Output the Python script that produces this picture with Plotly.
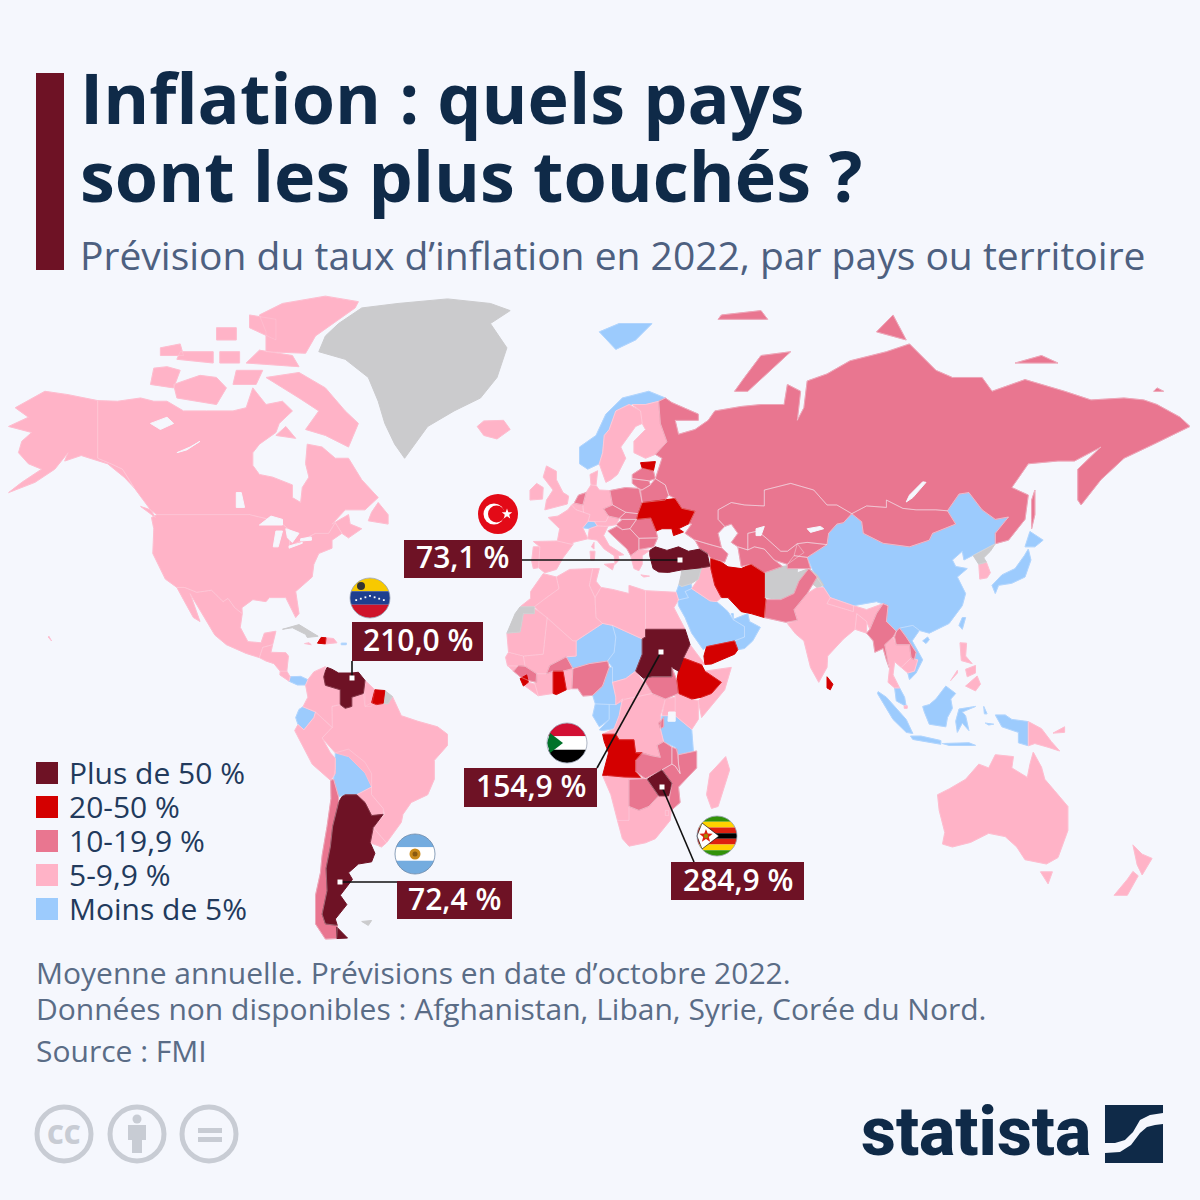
import math
import plotly.graph_objects as go

# ---------- geometry: country outlines as (lon, lat) rings, read coarsely ----------
CANADA = [
 [(-141,69.6),(-135,69.5),(-128,70),(-124,69.5),(-120,69.5),(-115,68),(-108,68),(-100,68),(-96,68.5),(-95,70),(-94,71.5),(-90,69),(-85,69.5),(-82,68),(-86,66),(-87,64.5),(-92,62.5),(-94,61),(-94,58.7),(-92,57),(-88,56.5),(-82,55),(-82,52.5),(-79.5,51.5),(-79,54.5),(-77,56.5),(-78,59),(-77.5,62.5),(-73,62),(-69,60),(-65,60),(-61,56),(-56,52.5),(-60,50),(-66,50),(-70,47),(-65,49),(-64.5,47),(-61,46),(-65,44),(-67,45),(-69,47.3),(-71,45),(-75,45),(-79,43.5),(-83,42),(-82.5,45.5),(-85,47),(-89,48),(-95,49),(-123,49),(-125,50),(-130,54.5),(-133.5,58),(-137,59),(-141,60)],
 [(-62,66),(-65,62),(-72,64),(-78,65),(-74,68),(-80,70),(-90,73),(-80,73.7),(-72,71.5),(-66,68)],
 [(-117,70),(-105,69),(-102,71.5),(-105,73),(-110,73.3),(-118,72)],
 [(-90,76.5),(-78,76.3),(-75,78.5),(-63,81.8),(-62,82.5),(-72,83.1),(-85,82.3),(-92,81),(-90,79)],
 [(-96,75),(-80,74.5),(-82,76),(-92,76.7)],
 [(-125,72),(-118,71.5),(-116,74),(-120,74.5),(-124,74.3)],
 [(-117,75.5),(-106,75),(-106,76.5),(-116,76.5)],
 [(-104,75),(-98,75),(-98,76.5),(-104,76.5)],
 [(-122,76),(-115,76),(-116,77.5),(-122,77)],
 [(-105,78),(-99,78),(-99,79.5),(-105,79.5)],
 [(-100,72),(-93,72),(-91,74),(-99,74)],
 [(-59,47.7),(-53,47),(-53,49),(-56,51.5),(-58,49.5)],
 [(-128,50.7),(-123.5,48.4),(-125,50)],
 [(-95,79.5),(-87,78),(-87,80.5),(-95,81)],
 [(-87,64),(-81,63.5),(-84,65.5)],
]
USA = [
 [(-124.7,48.4),(-123,49),(-95,49),(-89,48),(-85,47),(-82.5,45.5),(-83,42),(-79,43.5),(-75,45),(-71,45),(-69,47.3),(-67,45),(-70,43.5),(-70,41.7),(-74,40.5),(-75.5,38),(-76,35),(-81,31.5),(-80,26),(-81,25),(-82.7,28),(-84,30),(-89,30),(-90,29),(-94,29.5),(-97.3,27.5),(-97.2,26),(-99.5,27.5),(-101.5,29.8),(-103,29),(-106.5,31.8),(-111,31.3),(-114.7,32.5),(-117,32.5),(-120.5,34.5),(-122.5,37.5),(-124.3,40.5),(-124,46)],
 [(-141,69.6),(-141,60),(-137,59),(-133.5,58),(-130,54.5),(-133,56.5),(-138,59),(-146,60.5),(-151,59.5),(-150,61),(-154,58),(-160,55.5),(-168,53.5),(-164,55.5),(-158,58),(-162,59),(-165,61),(-164,63),(-161,64.5),(-168,65.5),(-162,67),(-166,68.5),(-157,71),(-150,70.5)],
 [(-156,20),(-155,19),(-155.8,20.2)],
]
MEXICO = [[(-117,32.5),(-114.7,32.5),(-111,31.3),(-106.5,31.8),(-103,29),(-101.5,29.8),(-99.5,27.5),(-97.2,26),(-97.8,22.5),(-95.5,18.8),(-91.5,18.5),(-90.5,21),(-87,21.5),(-88,18),(-91,17.3),(-92,14.6),(-96,15.7),(-102,18),(-105.5,20.5),(-109,25.5),(-113,31),(-110,24),(-112,25),(-115,29.5)]]
CENTRAL_AM = [[(-92,14.6),(-91,17.3),(-88,18),(-88.5,16),(-84,15.9),(-83.2,15),(-83.7,11),(-85.7,11),(-87.6,13),(-90,13.7)]]
COSTA_RICA = [[(-85.7,11),(-83.7,11),(-82.7,9.5),(-83,8.3),(-85.8,10)]]
PANAMA = [[(-83,8.3),(-82.7,9.5),(-79.5,9.6),(-77.3,8.7),(-78,7.3),(-80.5,7.3)]]
CUBA = [[(-85,22),(-80,23.2),(-74.2,20.2),(-77.5,19.9),(-78,20.7),(-82,22.4)]]
HAITI = [[(-74.4,18.4),(-72,18.2),(-71.8,19.8),(-73.3,19.9)]]
DOMINICAN = [[(-71.8,19.8),(-72,18.2),(-68.5,18.5),(-69.5,19.6)]]
JAMAICA = [[(-78.3,18.3),(-76.3,18),(-77,18.5)]]
PUERTO_RICO = [[(-67.2,18.4),(-65.6,18.4),(-65.7,18),(-67.2,18)]]
GREENLAND = [[(-74,76.5),(-72,78.5),(-68,80),(-61,81.8),(-50,82.3),(-35,82.8),(-22,82.3),(-16,81.5),(-22,80),(-17,77),(-20,73),(-25,70),(-33,68),(-41,65.5),(-48,60),(-51,62.5),(-54,66),(-56,69.5),(-59,73),(-66,75.5)]]
ICELAND = [[(-26,65.5),(-24,64),(-20,63.4),(-16,65),(-18,66.5),(-24,66.4)]]
COLOMBIA = [[(-77.3,8.7),(-75.5,10.8),(-72,12.2),(-72.5,9.5),(-72,7.2),(-67.5,6),(-67.5,2),(-70,1.5),(-69.8,-4.2),(-72,-2.5),(-75,0),(-78.8,1.4),(-77.3,4),(-78,7.3)]]
VENEZUELA = [[(-72,11),(-71.5,12),(-70,11.5),(-68,10.5),(-64,10.5),(-62,10.7),(-60,8.5),(-60.5,5),(-64,4),(-64,1.5),(-66,1),(-67.5,2),(-67.5,6),(-72,7.2),(-72.5,9.5)]]
GUYANA = [[(-60,8.5),(-57,6),(-58,1.5),(-60,1.5),(-60.5,5)]]
SURINAME = [[(-57,6),(-54,5.8),(-54.5,2.3),(-56.5,2),(-58,2.5)]]
FR_GUIANA = [[(-54,5.8),(-51.7,4.2),(-53,2.2),(-54.5,2.3)]]
ECUADOR = [[(-78.8,1.4),(-75,0),(-75.5,-1.5),(-78.5,-4.8),(-80.3,-3.4),(-81,-1.5),(-80,0.7)]]
PERU = [[(-75,0),(-72,-2.5),(-70,-4.2),(-73,-7),(-70.5,-11),(-69,-12.5),(-69,-16.5),(-70.4,-18.3),(-76,-14),(-81.3,-5),(-80.3,-3.4),(-78.5,-4.8),(-75.5,-1.5)]]
BRAZIL = [[(-60,5.2),(-60,1.5),(-58,2.5),(-56.5,2),(-54.5,2.3),(-53,2.2),(-51.7,4.2),(-50,1),(-49,-1),(-44,-2.5),(-38,-4),(-35,-6),(-35,-9),(-39,-13),(-39,-18),(-41,-22),(-46,-24),(-48.5,-27),(-49,-29),(-53.5,-34),(-57.5,-30.3),(-54,-27),(-54.5,-25.5),(-58,-22),(-58,-20),(-60,-16.3),(-65,-12),(-69,-11),(-73,-7),(-70,-4.2),(-70,1.5),(-67.5,2),(-66,1),(-64,1.5),(-64,4),(-60.5,5)]]
BOLIVIA = [[(-69,-11),(-65,-10),(-60,-13.5),(-58,-16.5),(-58,-20),(-62.5,-22),(-66,-22),(-68,-22.5),(-69.5,-18),(-69,-15)]]
PARAGUAY = [[(-62.5,-22),(-58,-20),(-58,-22),(-54.5,-25.5),(-54.5,-27),(-58,-27.3),(-60,-24)]]
ARGENTINA = [
 [(-66,-22),(-62.5,-22),(-60,-24),(-58,-27.3),(-54.5,-27),(-57.5,-30.3),(-58.4,-34),(-57,-36.5),(-58,-38.5),(-62,-39),(-65,-41),(-63.8,-42.5),(-67.5,-46),(-65.5,-48),(-69,-51),(-68.4,-52.3),(-72,-52),(-73,-50),(-71.5,-45),(-71.8,-40),(-70.5,-35),(-69.8,-30),(-68,-24),(-67,-22.5)],
 [(-68.6,-52.6),(-65.3,-54.8),(-68.6,-54.9)],
]
CHILE = [[(-70.4,-18.3),(-69.5,-18),(-68,-22.5),(-68,-24),(-69.8,-30),(-70.5,-35),(-71.8,-40),(-71.5,-45),(-73,-50),(-72,-52),(-68.4,-52.3),(-68.6,-54.9),(-72,-55),(-75,-52),(-75,-46),(-73.5,-41),(-73,-37),(-71.5,-30),(-70.3,-23)]]
URUGUAY = [[(-58.4,-34),(-57.5,-30.3),(-53.5,-34),(-55,-35)]]
FALKLANDS = [[(-61,-51.5),(-58,-51.3),(-59,-52.3)]]
NORWAY = [[(5,59),(7.5,58),(11,59),(12,61),(12.5,64),(14,65),(16,68),(20,69),(25,69),(29,69.5),(31,70),(26,71),(18,70),(13,67.5),(10,64),(5,62)]]
SVALBARD = [[(11,79),(16,76.8),(22,78),(27,80),(17,80)]]
SWEDEN = [[(11,59),(13,55.5),(14.5,56),(16.5,57),(19,60),(17.5,62),(22,65.5),(24,66),(23.5,68),(20,69),(16,68),(14,65),(12.5,64),(12,61)]]
FINLAND = [[(21.5,61),(25,60),(28,60.7),(31.5,62.9),(29.5,66),(29,69.5),(25,69),(21,69),(23.5,68),(24,66),(25,65),(21.5,63)]]
DENMARK = [[(8.5,55),(10,54.9),(10.5,57.7),(8.2,57)]]
ESTONIA = [[(23.5,59.2),(28,59.4),(27.4,57.7),(25,58),(24,58.2)]]
LATVIA = [[(21,57),(24,58.2),(25,58),(27.4,57.7),(28,56.2),(26,55.8),(21,56.2)]]
LITHUANIA = [[(21,56.2),(26,55.8),(26.5,55),(24,54),(23,54.3),(21,55.3)]]
BELARUS = [[(23.5,53.9),(26.5,55),(28,56.2),(31,55),(32,53),(31,52),(24,51.5)]]
POLAND = [[(14.2,53.9),(19,54.5),(23,54.3),(24,51.5),(22.7,49.2),(19,49.5),(15,51)]]
UKRAINE = [[(24,51.5),(31,52),(34,52.3),(36,50.3),(40,49.7),(38.2,47.1),(35,46),(36.5,45.3),(33.5,44.5),(33,46),(30,46),(28.2,45.5),(29.5,47),(26.6,48.3),(22.3,48),(22.7,49.2)]]
MOLDOVA = [[(26.6,48.3),(29.2,47.8),(30,46.5),(28.2,45.5)]]
ROMANIA = [[(22.3,48),(26.6,48.3),(28.2,45.5),(28.7,44),(23,43.9),(20.3,46)]]
BULGARIA = [[(23,43.9),(28.7,44),(27.5,42),(23,41.4)]]
HUNGARY = [[(16.2,46.9),(18,48),(22.3,48),(20.3,46),(18,45.8)]]
SLOVAKIA = [[(17,48.2),(19,49.5),(22.7,49.2),(22.3,48),(18,48)]]
CZECHIA = [[(12.3,50.2),(15,51),(19,49.5),(17,48.2),(13.8,48.7)]]
BALKANS = [[(13.6,45.5),(16.3,46.5),(18,45.8),(20.3,46),(23,43.9),(23,41.4),(20.5,40),(19.4,41.5),(15,44.5)]]
GREECE = [[(20.5,40),(23,41.4),(26.3,41.2),(24,40),(24,38),(23,36.5),(21.5,37),(21,38.5)],[(23.6,35.5),(26.2,35.2),(24.5,35)]]
GERMANY = [[(6,51),(7,53.5),(8.5,55),(10,54.9),(11,54),(14.2,53.9),(15,51),(12.3,50.2),(13.8,48.7),(13,47.5),(7.6,47.6),(8.2,49),(6.2,49.5)]]
NETHERLANDS = [[(3.4,51.4),(4.7,53),(7,53.5),(6,51)]]
BELGIUM = [[(2.6,51),(3.4,51.4),(6,51),(6.2,49.5),(4,50)]]
SWITZERLAND = [[(6,46.2),(7.6,47.6),(9.6,47.5),(10.4,46.6),(8,46)]]
AUSTRIA = [[(9.6,47.5),(13,47.5),(13.8,48.7),(17,48.2),(16.2,46.9),(13,46.5),(10.4,46.6)]]
FRANCE = [[(2.6,51),(4,50),(6.2,49.5),(8.2,49),(7.6,47.6),(6,46.2),(7.5,43.8),(3,43),(3,42.5),(-1.7,43.3),(-1,46),(-4.5,48.4),(-1.5,48.7),(1.5,50)],[(8.6,42),(9.4,43),(9.4,41.5)]]
SPAIN = [[(-9,43.2),(-1.7,43.3),(3,42.5),(0,39.5),(-2,36.8),(-5.5,36),(-7.4,37.2),(-7,42)]]
PORTUGAL = [[(-9,42),(-7,42),(-7.4,37.2),(-9,37),(-9.5,38.8)]]
ITALY = [[(7.5,43.8),(8,46),(10.4,46.6),(13.6,46.5),(12.3,44.5),(14,42.3),(18.4,40.2),(16.7,40),(17,39),(15.8,38),(15.5,40),(12.5,41.5),(10.3,43.5)],[(12.5,38),(15.6,38.2),(15,36.7)],[(8.2,41),(9.7,41),(9.5,39),(8.4,39)]]
UK = [[(-5.5,50),(1.3,51.2),(1.7,52.8),(0,53.5),(-2,56),(-2,57.6),(-5,58.6),(-6,56.5),(-3,54),(-5,52)]]
IRELAND = [[(-10,52),(-6.2,52.2),(-6,54.5),(-8,55.3),(-10,54)]]
TURKEY = [[(26.3,40),(26.3,41.2),(28,42),(31.5,41.2),(35,42),(38,41),(41.5,41.5),(43.7,40.5),(44.5,37.5),(42,37.2),(36,36.7),(32,36.1),(29,36.2),(27.3,37)]]
CAUCASUS = [[(40,43.5),(44,42.6),(48,41.8),(50,40.4),(49,38.5),(44.8,39.4),(43.7,40.5),(41.5,41.5)]]
RUSSIA = [
 [(28,56.2),(31,55),(32,53),(34,52.3),(36,50.3),(40,49.7),(38.2,47.1),(39,47),(37,45),(40,43.5),(44,42.6),(48,41.8),(47,45),(49,46.5),(47,48),(47,50),(51,51.5),(55,51),(61,50.8),(61,54),(69,55.3),(76,54),(80,51),(83,51),(87.5,49.2),(92,50.8),(98,50.5),(98,52),(103,50.3),(107,50),(113,50),(116.5,49.8),(120,53.2),(123,53.5),(127,50),(131,48),(135,48.5),(131,45),(131,42.7),(135,43.5),(140,48),(141,53),(136,54.5),(141,59),(150,59.5),(155,59.5),(163,62),(156,58),(156,52),(157,51),(163,56),(170,60),(179,62.5),(190,65.5),(187,67),(180,69),(176,69.7),(170,70),(160,69.7),(152,71),(140,72.7),(130,71),(127,73),(118,73),(113,74),(105,77.5),(98,76.5),(87,75.3),(80,73.5),(74,72.5),(73,68.5),(71,66.5),(72,71),(68,72),(67,69),(60,69),(54,68.7),(46,68),(44,66.5),(40,65),(35,64.2),(34,66.5),(41,66.5),(41,67.5),(33,69.3),(31,70),(29,69.5),(29.5,66),(31.5,62.9),(28,60.7),(30,60)],
 [(142,46),(143,49),(143,54),(142,52),(142,48)],
 [(52,71),(56,71),(69,76.5),(60,76),(55,73)],
 [(95,79),(104,78),(100,81)],
 [(137,75),(150,75),(145,76)],
 [(47,80.5),(62,80.5),(60,81.5),(48,81)],
 [(179,71),(182,71),(180,71.5)],
]
KAZAKHSTAN = [[(47,48),(49,46.5),(51,47),(53,45),(51,43),(53,42),(56,41.3),(56,45),(59,45.5),(61.5,44),(66,41),(68,41),(71,42.7),(74,43),(80,42.5),(80.5,45),(83,47),(85,47.3),(87.5,49.2),(83,51),(80,51),(76,54),(69,55.3),(61,54),(61,50.8),(55,51),(51,51.5),(47,50)]]
UZBEKISTAN = [[(56,41.3),(56,45),(59,45.5),(61.5,44),(66,41),(68,41),(71,42.7),(73,40.7),(68,38),(64,39),(61,41.5),(58,42)]]
TURKMENISTAN = [[(53,42),(56,41.3),(58,42),(61,41.5),(64,39),(66.5,37.5),(61,36),(57,38),(54,37.5)]]
KYRGYZSTAN = [[(71,42.7),(74,43),(80,42.5),(74,39.6),(70,40)]]
TAJIKISTAN = [[(68,38),(70,40),(74,39.6),(75,37),(71,37),(68,37)]]
MONGOLIA = [[(87.5,49.2),(92,50.8),(98,50.5),(98,52),(103,50.3),(107,50),(113,50),(116.5,49.8),(119,47),(112,45),(111,43.5),(105,42),(97,42.8),(91,45),(90.5,47.5)]]
CHINA = [[(74,39.6),(80,42.5),(80.5,45),(83,47),(85,47.3),(87.5,49.2),(90.5,47.5),(91,45),(97,42.8),(105,42),(111,43.5),(112,45),(119,47),(116.5,49.8),(120,53.2),(123,53.5),(127,50),(131,48),(135,48.5),(131,45),(131,42.7),(128,41.5),(124.3,40),(121.5,39),(121,41),(118,39),(119,37.5),(122.5,37),(119.5,35),(122,31),(121,28),(117,23.5),(111,21),(108,21.7),(106,23),(102,22.3),(101,21.5),(98,24),(98.5,28),(95,29),(88,28),(81,30),(79,32.5),(76,36)],[(109,19),(110.5,20),(111,19.3),(110,18.3)]]
NORTH_KOREA = [[(124.3,40),(128,41.5),(131,42.7),(129.5,41),(127.5,39.5),(128.3,38.5),(126,38)]]
SOUTH_KOREA = [[(126,38),(128.3,38.5),(129.5,36),(128.5,34.8),(126.3,34.5)]]
JAPAN = [[(130,33),(131,31),(132,33),(136,33.5),(140,35),(141.8,39),(141,41.5),(139.8,40),(137,37),(133,35.5)],[(140,42),(141.5,45.4),(145.5,43.5),(143,42)]]
TAIWAN = [[(120,23),(121,25),(122,25),(121,22)]]
AFGHANISTAN = [[(61,30),(61,36),(66.5,37.5),(71,38),(71,36),(74.5,37),(71.5,34),(70,31),(66,29.5)]]
KASHMIR = [[(74.5,37),(77,35.5),(79,33),(77,32.5),(74.5,34)]]
PAKISTAN = [[(61,25),(61.5,29.5),(66,29.5),(70,31),(71.5,34),(74.5,37),(77,35),(74,31),(70,27),(71,24.3),(67.5,23.8)]]
INDIA = [[(68,23.5),(71,24.3),(70,27),(74,31),(77,32.5),(79,32.5),(81,30),(80,28.5),(88,26.5),(88,28),(92,27),(97,28.5),(95,26),(93,22),(92,24),(89,26),(88.5,22),(85,19.5),(80.2,15),(80,12),(77.5,8),(75,12),(73,19),(70.5,20.8)]]
NEPAL = [[(80,28.5),(81,30),(88,28),(88,26.5)]]
BANGLADESH = [[(88.5,22),(89,26),(92,24),(92,21)]]
SRI_LANKA = [[(80,9.5),(81.8,7.5),(81,6),(80,6.5)]]
MYANMAR = [[(92,21),(93,22),(95,26),(97,28.5),(98.5,28),(98,24),(101,21.5),(100,20),(97.5,18),(98.8,12),(98,14),(97,17),(94.5,16),(94,19)]]
THAILAND = [[(97.5,18),(100,20),(101,18),(105,18),(105.5,14.5),(102.5,12),(100.5,13.5),(100,10),(102,6.5),(100.5,6.5),(98.5,8),(99,12)]]
LAOS = [[(101,21.5),(102,22.3),(104,20),(107,16),(106.5,14),(105.5,14.5),(105,18),(101,18),(100.5,20)]]
CAMBODIA = [[(102.5,12),(105.5,14.5),(107.5,14),(106.5,11),(104.5,10.5)]]
VIETNAM = [[(102,22.3),(106,23),(108,21.7),(105.8,19),(109,14),(107,10.5),(105,8.7),(104.5,10.5),(106.5,11),(107.5,14),(106.5,14),(107,16),(104,20)]]
MALAYSIA = [[(100.5,6.5),(102,6.5),(103.5,4),(104,1.5),(101,3)]]
BORNEO = [[(109,1.5),(111,2),(113,3.5),(116,7),(119,5),(117.5,3.5),(118,1),(116.5,-1.5),(116,-4),(111,-3.3),(109.5,0)]]
SINGAPORE = [[(103.4,1.7),(104.3,1.7),(104.3,1),(103.4,1)]]
INDONESIA = [
 [(95.5,5.5),(98,4),(104,-2),(106,-5.8),(104,-5.5),(100,-2),(95.3,5)],
 [(105.3,-6.5),(108.5,-6.5),(114.5,-7.7),(114.5,-8.7),(106,-7.4)],
 [(119.5,-5.5),(119,-2.5),(120,0.8),(125,1.5),(121,0),(122,-1),(123,-5),(121,-3)],
 [(115,-8.5),(123,-8.3),(125,-9),(117,-9)],
 [(131,-0.8),(134,-0.8),(136,-2),(141,-2.6),(141,-9.1),(138,-8.3),(138,-5.5),(133,-4)],
 [(127.5,1.5),(128.5,-0.5),(127.7,-0.5)],
 [(128,-3),(130.5,-3.3),(129,-3.5)],
]
PNG = [[(141,-2.6),(145,-4.5),(148,-8),(150.5,-10.5),(147,-9.5),(143,-8.5),(141,-9.1)],[(148.5,-5.7),(152,-4),(152,-5.5)]]
PHILIPPINES = [[(120.3,18.5),(122.3,18.4),(122,15),(124,13),(120.7,13.8)],[(122,7),(125.5,9.7),(126.5,7.5),(125,5.7)],[(122,11.5),(125,12.5),(125,10.5),(122.5,9.5)],[(117.5,8.5),(119.5,11.2),(119.5,10.5)]]
AUSTRALIA = [[(113.5,-22),(114,-26),(115.7,-31.5),(115,-34.3),(118,-35),(123.5,-33.9),(129,-31.7),(134,-32.5),(137.5,-35),(140,-38),(146.5,-39),(150,-37.5),(153,-31),(153,-25),(149,-21),(146,-18),(145,-14.8),(142.5,-10.8),(141.5,-14),(140.7,-17.5),(136,-15),(136.5,-12),(131,-11.5),(129,-15),(126,-14),(122,-18),(117,-20.5)],[(144.7,-40.8),(148.3,-40.8),(147,-43.5)]]
NEW_ZEALAND = [[(172.7,-34.5),(175.5,-36.7),(178.5,-37.7),(175.5,-41.5),(174,-39.2)],[(172.7,-40.7),(174.3,-41.7),(171,-46),(167,-46),(171,-42.5)]]
IRAN = [[(44.8,39.4),(48,38.5),(50,37.4),(54,37),(57,38),(61,36),(61,30),(61.5,29.5),(61,25),(57,26),(54,26.5),(50,30),(48,30),(46,33),(44.8,37)]]
IRAQ = [[(42,37.2),(44.5,37.5),(44.8,37),(46,33),(48,30),(46.5,29),(44.5,29.2),(39,32.2),(41,34.5)]]
SYRIA_LEBANON = [[(36,36.7),(42,37.2),(41,34.5),(38.8,33.4),(36,32.7),(35.1,33.1),(35.8,35.5)]]
JORDAN_ISRAEL = [[(34.3,31.3),(35.1,33.1),(36,32.7),(38.8,33.4),(39,32.2),(37,31.5),(38,30),(35,29.4)]]
SAUDI = [[(34.8,29.4),(38,30),(37,31.5),(39,32.2),(44.5,29.2),(46.5,29),(48,28),(50,26.5),(51.5,24.5),(55,22.7),(55,20),(52,19),(49,18.5),(43.5,17.5),(42.5,16.7),(39,21),(37,25),(35,28)]]
OMAN_UAE = [[(51.5,24.5),(56,26),(56.5,24),(59.8,22.5),(57.5,19),(55,17),(53,16.7),(52,19),(55,20),(55,22.7)]]
QATAR = [[(51,26),(51.6,26),(51.6,24.7)]]
YEMEN = [[(43,12.8),(45,12.9),(52,15.5),(53,16.7),(52,19),(49,18.5),(43.5,17.5),(42.7,15)]]
MOROCCO = [[(-9.8,31.5),(-6,35.8),(-2,35),(-1.2,32.2),(-5,30),(-8.7,27.7),(-13,27.7),(-9.8,29.8)]]
W_SAHARA = [[(-13,27.7),(-8.7,27.7),(-8.7,26),(-12,26),(-13,21.3),(-17,21),(-14.5,26)]]
ALGERIA = [[(-2,35),(2,36.8),(9,37),(8,33),(9.7,30),(10,25),(12,23.5),(4,19),(3,19),(-4.8,25),(-8.7,27.7),(-5,30),(-1.2,32.2)]]
TUNISIA = [[(9,37),(11,37),(10,34),(11.5,32.5),(9.7,30),(8,33)]]
LIBYA = [[(11.5,32.5),(15,32),(20,31),(20,33),(25,31.7),(25,20),(24,19.5),(15,23),(12,23.5),(10,25),(9.7,30)]]
EGYPT = [[(25,31.7),(31,31.5),(34.3,31.3),(35,29.5),(33.6,27.5),(37,22),(25,22)]]
MAURITANIA = [[(-17,21),(-13,21.3),(-12,26),(-8.7,26),(-8.7,27.3),(-4.8,25),(-6,15.5),(-12,15),(-16.5,16)]]
MALI = [[(-4.8,25),(3,19),(4,19),(4,15),(1,14.8),(-4,12.5),(-5,10.3),(-8,10.3),(-11.5,12.3),(-12,15),(-6,15.5)]]
NIGER = [[(4,19),(12,23.5),(15,23),(16,20),(15.5,16),(13.5,13.7),(8,13),(3,11.7),(1,14.8),(4,15)]]
CHAD = [[(15,23),(24,19.5),(24,15.5),(22,11),(19,9),(15,8),(15,12),(13.5,13.7),(15.5,16),(16,20)]]
BURKINA = [[(1,14.8),(3,11.7),(0,11),(-3,11),(-5,10.3),(-4,12.5)]]
SENEGAL = [[(-16.5,16),(-12,15),(-11.5,12.3),(-16.8,12.4),(-17.4,14.7)]]
GUINEA = [[(-15,11),(-13.5,12.5),(-11.5,12.3),(-8,10.3),(-8,8),(-10.5,8.5),(-13,9.5)]]
SIERRA_LEONE = [[(-13,9),(-11,10),(-10.5,8),(-12,7)]]
LIBERIA = [[(-11.5,7),(-10.5,8),(-8.5,7.5),(-7.5,4.4)]]
GUINEA_BISSAU = [[(-16.7,12.4),(-13.7,12.4),(-15,11)]]
IVORY_COAST = [[(-8.5,7.5),(-8,10.3),(-5,10.3),(-3,11),(-3,5),(-7.5,4.4)]]
GHANA = [[(-3,11),(0,11),(1,6),(-2,4.7),(-3,5)]]
TOGO_BENIN = [[(0,11),(3,11.7),(2.7,6.3),(1,6)]]
NIGERIA = [[(3,11.7),(8,13),(13.5,13.7),(14,12),(12,7),(9,4.5),(6,4.3),(4.5,6.3),(2.7,6.3)]]
CAMEROON = [[(14,12),(15,12),(15,8),(16,4),(16,2),(9.8,2.2),(9,4.5),(12,7)]]
CAR = [[(15,8),(19,9),(22,11),(27,5),(19,3.5),(16,2),(16,4)]]
GABON = [[(9.8,2.2),(14,2),(14,-2),(11,-4),(9,-1)]]
CONGO = [[(11,-4.8),(14,-2),(14,2),(16,2),(18,3.5),(17,-1),(15.5,-4.5),(12,-5)]]
DRC = [[(12,-6),(15.5,-4.5),(17,-1),(18,3.5),(19,3.5),(27,5),(31,3.5),(29.5,-1),(29.5,-4.5),(30.5,-8),(28.5,-9),(29.5,-12.2),(27,-11.8),(22,-11),(21.5,-7.5),(17,-7.5),(16,-6)]]
ANGOLA = [[(12,-6),(16,-6),(17,-7.5),(21.5,-7.5),(22,-11),(24,-11),(22,-13),(22,-16),(23.5,-17.5),(18.5,-17.4),(13.5,-17),(12,-17),(13.8,-11),(12.5,-8)]]
SOUTH_SUDAN = [[(24.5,9),(27,9.5),(33,9.5),(33,12),(34.5,8.5),(35,5),(31,3.5),(27,5),(24.5,8.7)]]
SUDAN = [[(24,15.5),(24,19.5),(25,20),(25,22),(37,22),(38.5,18),(36.5,14.5),(35,11),(33,12),(33,9.5),(27,9.5),(24.5,9),(22,11)]]
ERITREA = [[(38.5,18),(43,12.8),(42,12.7),(36.5,14.5)]]
ETHIOPIA = [[(36.5,14.5),(42,12.7),(43,11),(48,8),(45,5),(42,4),(39,3.5),(35,5),(34.5,8.5),(35,11)]]
SOMALIA = [[(43,11),(51,12),(49,6),(42,-1.5),(41,3),(42,4),(45,5),(48,8)]]
KENYA = [[(34,4.5),(35,5),(39,3.5),(41,3),(41,-2),(39,-4.7),(34,-1),(34,1)]]
UGANDA = [[(30,-1),(34,-1),(34,4),(31,3.5)]]
RWANDA_BURUNDI = [[(29,-3),(30.5,-1.5),(30.5,-4),(29.5,-4.5)]]
TANZANIA = [[(30,-1),(34,-1),(39,-4.7),(39.5,-10.5),(35,-11.5),(34,-9.5),(30.5,-8),(29.5,-4.5)]]
ZAMBIA = [[(22,-13),(24,-11),(27,-11.8),(29.5,-12.2),(28.5,-9),(30.5,-8),(33,-9.5),(33,-14),(30,-15.5),(28,-16.5),(25,-17.8),(22,-16)]]
MALAWI = [[(33,-9.5),(34.5,-10),(35,-14),(35.5,-16.5),(34,-14.5),(33,-14)]]
MOZAMBIQUE = [[(35,-11.5),(40.5,-10.5),(40.5,-15),(35,-20),(35.5,-24),(32.8,-26),(32,-24),(33,-19),(30,-15.5),(33,-14),(34,-14.5),(35.5,-16.5),(35,-14)]]
ZIMBABWE = [[(25.5,-18),(28,-16.5),(30,-15.5),(33,-19),(32,-22.3),(29,-22.3)]]
BOTSWANA = [[(20,-18),(25,-17.8),(25.5,-18),(29,-22.3),(26,-25),(23,-26),(20,-25)]]
NAMIBIA = [[(12,-17),(13.5,-17),(18.5,-17.4),(23.5,-17.5),(25,-17.8),(20,-18),(20,-28.5),(16.5,-28.5),(14.5,-22)]]
SOUTH_AFRICA = [[(16.5,-28.5),(20,-28.5),(20,-25),(23,-26),(26,-25),(29,-22.3),(32,-22.3),(32.8,-26),(32.5,-28.5),(28,-33),(25,-34),(20,-34.8),(18,-33)]]
ESWATINI = [[(31,-26),(32,-26),(32,-27.3),(31,-27.3)]]
MADAGASCAR = [[(49.3,-12),(50.5,-15.5),(47,-25),(45,-25.5),(43.5,-22),(44.5,-16.5)]]
WATER = [
 [(58.5,46),(61,46.5),(60,44.5),(58.5,44.5)],
 [(74,46),(78,46.5),(79,46),(75,45.2)],
 [(104,51.6),(106,52.5),(110,55.5),(109,55.6),(105,53)],
 [(-92,46.8),(-85,46.8),(-85,48),(-88.5,48.7)],
 [(-87.8,42),(-86.3,42),(-85,45.5),(-87,45.5)],
 [(-84,46),(-80,45),(-82,43),(-83.5,44)],
 [(-83,41.7),(-79,42.8),(-79,43),(-83,42.2)],
 [(-79.5,43.3),(-76.2,43.5),(-76.3,44.2),(-79.5,43.8)],
 [(31.8,-2.5),(34,-2.5),(34,0),(32,0)],
 [(-125,66),(-120,67),(-118,66),(-122,65)],
 [(-117,61),(-114,61.5),(-110,63),(-113,62)],
 [(-99,50.5),(-96.5,50.5),(-97.5,53.5),(-99,53.5)],
]

# ---------- classes ----------
CLASS_NAMES = ["Moins de 5%", "5-9,9 %", "10-19,9 %", "20-50 %", "Plus de 50 %"]
CLASS_COLORS = ["#9ccbfd", "#ffb3c7", "#e97690", "#d40000", "#6e1225"]
NO_DATA_COLOR = "#cbcbcd"
LT5 = [CHINA, JAPAN, TAIWAN, SAUDI, OMAN_UAE, QATAR, JORDAN_ISRAEL, NORWAY, SVALBARD, SWITZERLAND, NIGER, CHAD, CAMEROON, GABON, CONGO, TANZANIA, ESWATINI, ECUADOR, BOLIVIA, PANAMA, PUERTO_RICO, VIETNAM, MALAYSIA, BORNEO, INDONESIA]
P5_9 = [CANADA, USA, MEXICO, CENTRAL_AM, COSTA_RICA, DOMINICAN, JAMAICA, ICELAND, COLOMBIA, GUYANA, PERU, BRAZIL, PARAGUAY, URUGUAY, SWEDEN, FINLAND, DENMARK, GREECE, GERMANY, BELGIUM, AUSTRIA, FRANCE, SPAIN, PORTUGAL, ITALY, UK, IRELAND, SOUTH_KOREA, INDIA, NEPAL, BANGLADESH, THAILAND, CAMBODIA, SINGAPORE, PNG, PHILIPPINES, AUSTRALIA, NEW_ZEALAND, IRAQ, MOROCCO, ALGERIA, TUNISIA, LIBYA, EGYPT, MAURITANIA, MALI, SENEGAL, LIBERIA, GUINEA_BISSAU, IVORY_COAST, TOGO_BENIN, CAR, DRC, ERITREA, SOMALIA, KENYA, UGANDA, NAMIBIA, SOUTH_AFRICA, MADAGASCAR]
P10_19 = [CHILE, LATVIA, LITHUANIA, BELARUS, POLAND, ROMANIA, BULGARIA, HUNGARY, SLOVAKIA, CZECHIA, BALKANS, NETHERLANDS, CAUCASUS, RUSSIA, KAZAKHSTAN, UZBEKISTAN, TURKMENISTAN, KYRGYZSTAN, TAJIKISTAN, MONGOLIA, PAKISTAN, MYANMAR, LAOS, BURKINA, GUINEA, NIGERIA, SOUTH_SUDAN, RWANDA_BURUNDI, ZAMBIA, MALAWI, MOZAMBIQUE, BOTSWANA]
P20_50 = [HAITI, SURINAME, ESTONIA, UKRAINE, MOLDOVA, SRI_LANKA, IRAN, YEMEN, SIERRA_LEONE, GHANA, ETHIOPIA, ANGOLA]
GT50 = [VENEZUELA, ARGENTINA, TURKEY, SUDAN, ZIMBABWE]
NO_DATA = [CUBA, GREENLAND, FR_GUIANA, FALKLANDS, NORTH_KOREA, AFGHANISTAN, KASHMIR, SYRIA_LEBANON, W_SAHARA]

TITLE_LINES = ["Inflation : quels pays", "sont les plus touchés ?"]
SUBTITLE = "Prévision du taux d’inflation en 2022, par pays ou territoire"
FOOT_LINES = ["Moyenne annuelle. Prévisions en date d’octobre 2022.",
              "Données non disponibles : Afghanistan, Liban, Syrie, Corée du Nord.",
              "Source : FMI"]
CALLOUT_TEXT = ["73,1 %", "210,0 %", "154,9 %", "284,9 %", "72,4 %"]

BG = "#f5f7fd"
NAVY = "#0f2a48"
SLATE = "#4d6080"
LEGEND_TEXT = "#223a5c"
FOOT = "#5a6c86"
DARK = CLASS_COLORS[4]
FONT = "Open Sans"


def miller(lat):
    phi = math.radians(lat)
    return math.degrees(1.25 * math.log(math.tan(math.pi / 4 + 0.4 * phi)))


def ring_xy(countries):
    xs, ys = [], []
    for country in countries:
        for ring in country:
            for lon, lat in list(ring) + [ring[0]]:
                xs.append(lon)
                ys.append(miller(lat))
            xs.append(None)
            ys.append(None)
    return xs, ys


fig = go.Figure()
groups = [(CLASS_NAMES[0], LT5, CLASS_COLORS[0]), (CLASS_NAMES[1], P5_9, CLASS_COLORS[1]),
          ("Données non disponibles", NO_DATA, NO_DATA_COLOR), (CLASS_NAMES[2], P10_19, CLASS_COLORS[2]),
          (CLASS_NAMES[3], P20_50, CLASS_COLORS[3]), (CLASS_NAMES[4], GT50, CLASS_COLORS[4]),
          ("eau", [WATER], BG)]
for name, countries, color in groups:
    xs, ys = ring_xy(countries)
    fig.add_trace(go.Scatter(x=xs, y=ys, mode="lines", fill="toself", fillcolor=color, name=name,
                             line=dict(color=color, width=1), hoverinfo="skip", showlegend=False))
# thin pale borders between countries
for countries, alpha in ((P10_19, 0.75), (LT5, 0.45), (P5_9, 0.3)):
    xs, ys = ring_xy(countries)
    fig.add_trace(go.Scatter(x=xs, y=ys, mode="lines", line=dict(color=f"rgba(245,247,253,{alpha})", width=0.5),
                             hoverinfo="skip", showlegend=False))


def X(p):
    return p / 1200


def Y(p):
    return 1 - p / 1200


shapes, notes = [], []


def rect(x0, y0, x1, y1, color):
    shapes.append(dict(type="rect", xref="paper", yref="paper", x0=X(x0), x1=X(x1), y0=Y(y0), y1=Y(y1),
                       fillcolor=color, line=dict(width=0)))


def circle(cx, cy, r, fill=None, line=None, lw=0):
    shapes.append(dict(type="circle", xref="paper", yref="paper", x0=X(cx - r), x1=X(cx + r), y0=Y(cy - r), y1=Y(cy + r),
                       fillcolor=fill or "rgba(0,0,0,0)", line=dict(color=line or "rgba(0,0,0,0)", width=lw)))


def poly(pts, fill, line=None, lw=0):
    d = "M" + "L".join(f"{X(a):.5f},{Y(b):.5f}" for a, b in pts) + "Z"
    shapes.append(dict(type="path", xref="paper", yref="paper", path=d, fillcolor=fill,
                       line=dict(color=line or "rgba(0,0,0,0)", width=lw)))


def seg(x0, y0, x1, y1, color="#111111", w=1.6):
    shapes.append(dict(type="line", xref="paper", yref="paper", x0=X(x0), x1=X(x1), y0=Y(y0), y1=Y(y1),
                       line=dict(color=color, width=w)))


def text(x, y, s, size, color, weight=400, anchor="left", font=FONT):
    notes.append(dict(xref="paper", yref="paper", x=X(x), y=Y(y), text=s, showarrow=False, xanchor=anchor, yanchor="middle",
                      align="left", font=dict(family=font, size=size, color=color, weight=weight)))


def band(cx, cy, r, a, b, color):
    n = 14
    pts = []
    for i in range(n + 1):
        t = a + (b - a) * i / n
        pts.append((cx + math.sqrt(max(r * r - t * t, 0)), cy + t))
    for i in range(n + 1):
        t = b + (a - b) * i / n
        pts.append((cx - math.sqrt(max(r * r - t * t, 0)), cy + t))
    poly(pts, color)


def star(cx, cy, r, color):
    pts = []
    for i in range(10):
        rr = r if i % 2 == 0 else r * 0.42
        ang = -math.pi / 2 + i * math.pi / 5
        pts.append((cx + rr * math.cos(ang), cy + rr * math.sin(ang)))
    poly(pts, color)


# header
rect(36, 73, 64, 270, DARK)
text(78, 97, TITLE_LINES[0], 70, NAVY, 700)
text(78, 175, TITLE_LINES[1], 70, NAVY, 700)
text(78, 254, SUBTITLE, 39, SLATE)

# legend
for i, (label, color) in enumerate(zip(reversed(CLASS_NAMES), reversed(CLASS_COLORS))):
    yc = 773 + 34 * i
    rect(36, yc - 11, 58, yc + 11, color)
    text(67, yc - 1, label, 30, LEGEND_TEXT)

# callouts
boxes = [(404, 540, 522, 578), (352, 622, 483, 661), (464, 768, 597, 807), (671, 862, 804, 900), (397, 881, 512, 919)]
leaders = [(522, 560, 680, 560), (352, 661, 352, 678), (597, 768, 661, 652), (694, 862, 662, 787), (397, 882, 340, 882)]
for box, lead, label in zip(boxes, leaders, CALLOUT_TEXT):
    seg(*lead)
    rect(lead[2] - 2.5, lead[3] - 2.5, lead[2] + 2.5, lead[3] + 2.5, "#ffffff")
    rect(*box, DARK)
    text((box[0] + box[2]) / 2, (box[1] + box[3]) / 2 - 2, label, 30, "#ffffff", 600, "center")

# flags
R = 20
# Turkey
cx, cy = 498, 514
circle(cx, cy, R, "#e30a17")
circle(cx - 4, cy, 10.5, "#ffffff")
circle(cx - 1.5, cy, 8.5, "#e30a17")
star(cx + 9, cy, 5.5, "#ffffff")
# Venezuela
cx, cy = 370, 598
band(cx, cy, R, -R, -6.7, "#f7c900")
band(cx, cy, R, -6.7, 6.7, "#1f3f8f")
band(cx, cy, R, 6.7, R, "#cf142b")
for k in range(-3, 4):
    rect(cx + k * 4.6 - 0.9, cy - 3 + abs(k) * 1.4, cx + k * 4.6 + 0.9, cy - 1.2 + abs(k) * 1.4, "#ffffff")
circle(cx - 9, cy - 12, 4, "#333333")
circle(cx, cy, R, None, "#9aa3b5", 0.8)
# Sudan
cx, cy = 567, 743
band(cx, cy, R, -R, -6.7, "#d21034")
band(cx, cy, R, -6.7, 6.7, "#ffffff")
band(cx, cy, R, 6.7, R, "#000000")
poly([(cx - 17, cy - 10), (cx - 4, cy), (cx - 17, cy + 10), (cx - 20, cy)], "#007229")
circle(cx, cy, R, None, "#9aa3b5", 0.8)
# Zimbabwe
cx, cy = 717, 836
stripe_colors = ["#319208", "#ffd200", "#de2010", "#000000", "#de2010", "#ffd200", "#319208"]
for i, c in enumerate(stripe_colors):
    band(cx, cy, R, -R + i * 40 / 7, -R + (i + 1) * 40 / 7, c)
poly([(cx - 15, cy - 13), (cx + 2, cy), (cx - 15, cy + 13), (cx - 20, cy)], "#ffffff", "#000000", 0.6)
star(cx - 11, cy, 7, "#de2010")
circle(cx - 11, cy, 2.2, "#a88400")
circle(cx, cy, R, None, "#9aa3b5", 0.8)
# Argentina
cx, cy = 415, 854
band(cx, cy, R, -R, -6.7, "#74acdf")
band(cx, cy, R, -6.7, 6.7, "#ffffff")
band(cx, cy, R, 6.7, R, "#74acdf")
circle(cx, cy, 5.5, "#c98a1b")
circle(cx, cy, 2.5, "#8a5a10")
circle(cx, cy, R, None, "#6d89a8", 0.8)

# footer
text(34, 972, FOOT_LINES[0], 30, FOOT)
text(34, 1008, FOOT_LINES[1], 30, FOOT)
text(34, 1050, FOOT_LINES[2], 30, FOOT)

# licence icons
ICON = "#c8ccd4"
for cx in (64, 137, 209):
    circle(cx, 1134, 27, None, ICON, 5)
text(64, 1134, "CC", 26, ICON, 800, "center")
circle(137, 1119, 4.5, ICON)
rect(128, 1125, 146, 1140, ICON)
rect(132, 1140, 142, 1153, ICON)
rect(198, 1128, 222, 1133, ICON)
rect(198, 1137, 222, 1142, ICON)

# logo
text(976, 1132, "statista", 68, NAVY, 800, "center", "Roboto")
poly([(1105, 1105), (1163, 1105), (1163, 1113), (1150, 1115), (1140, 1120), (1133, 1132), (1125, 1140), (1115, 1143), (1105, 1143)], NAVY)
poly([(1105, 1153), (1120, 1152), (1131, 1145), (1140, 1133), (1147, 1127), (1155, 1125), (1163, 1124), (1163, 1163), (1105, 1163)], NAVY)

fig.update_layout(
    width=1200, height=1200, margin=dict(l=0, r=0, t=0, b=0), autosize=False,
    paper_bgcolor=BG, plot_bgcolor=BG, showlegend=False,
    shapes=shapes, annotations=notes,
    xaxis=dict(range=[(0 - 563) / 3.3, (1200 - 563) / 3.3], visible=False, fixedrange=True, domain=[0, 1]),
    yaxis=dict(range=[(712 - 1200) / 3.7, 712 / 3.7], visible=False, fixedrange=True, domain=[0, 1]),
)
fig.write_html("out.html", config={"displayModeBar": False},
               post_script="document.body.style.margin='0';document.documentElement.style.background='#f5f7fd';")
